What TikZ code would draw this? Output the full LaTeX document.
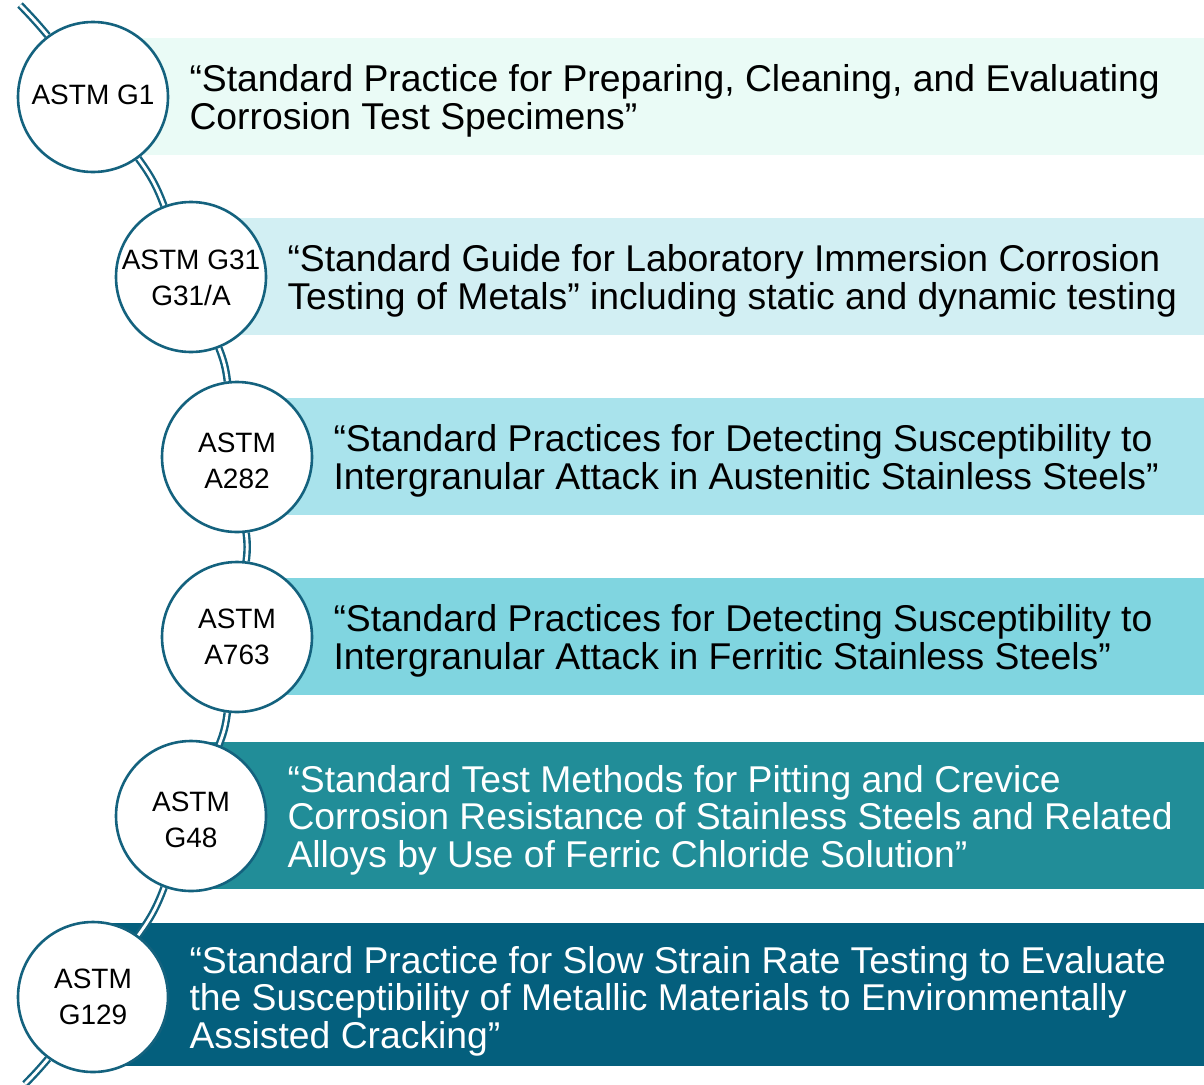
\documentclass[tikz,border=0pt]{standalone}
\usepackage{fontspec}
\setmainfont{Liberation Sans}
\usetikzlibrary{positioning,backgrounds}

\definecolor{bandA}{HTML}{EAFBF6}
\definecolor{bandB}{HTML}{D2EFF3}
\definecolor{bandC}{HTML}{A9E3EC}
\definecolor{bandD}{HTML}{80D5E0}
\definecolor{bandE}{HTML}{218D98}
\definecolor{bandF}{HTML}{045F7D}
\definecolor{rim}{HTML}{14627E}

\tikzset{
	stdcirc/.style={circle,draw=rim,line width=2.6pt,fill=white,minimum size=150pt,inner sep=0pt,align=center,font=\fontsize{28}{36}\selectfont},
	desc/.style={inner sep=0pt,align=left,text depth=0pt,font=\fontsize{37.3}{37.5}\selectfont},
	link/.style={draw=rim,line width=2.4pt,double=white,double distance=2.8pt}
}

\begin{document}
\begin{tikzpicture}[x=1pt,y=1pt]
	\useasboundingbox (0,0) rectangle (1204,-1084);

	%standards along the arc
	\node[stdcirc,text height=16pt] (g1) at (93,-97) {ASTM G1};
	\node[stdcirc,text height=56pt,text depth=-14pt] (g31) at (191,-277) {ASTM G31\\G31/A};
	\node[stdcirc,text height=64pt] (a282) at (237,-457) {ASTM\\A282};
	\node[stdcirc] (a763) at (237,-637) {ASTM\\A763};
	\node[stdcirc,text height=63pt] (g48) at (191,-816) {ASTM\\G48};
	\node[stdcirc] (g129) at (93,-997) {ASTM\\G129};
	\coordinate (top) at (20,-5);
	\coordinate (bot) at (25,-1084);

	%coloured bands
	\begin{scope}[on background layer]
		\fill[bandA] (g1.center |- 0,-38) rectangle (1204,-155);
		\fill[bandB] (g31.center |- 0,-218) rectangle (1204,-335);
		\fill[bandC] (a282.center |- 0,-398) rectangle (1204,-515);
		\fill[bandD] (a763.center |- 0,-578) rectangle (1204,-695);
		\fill[bandE] (g48.center |- 0,-742) rectangle (1204,-889);
		\fill[bandF] (g129.center |- 0,-923) rectangle (1204,-1066);

		%double line through the circles
		\draw[link] (top) to[bend left=2] (g1);
		\draw[link] (g1) to[bend left=7.8] (g31);
		\draw[link] (g31) to[bend left=7.1] (a282);
		\draw[link] (a282) to[bend left=6.9] (a763);
		\draw[link] (a763) to[bend left=7.1] (g48);
		\draw[link] (g48) to[bend left=7.8] (g129);
		\draw[link] (g129) to[bend left=2] (bot);
	\end{scope}

	%descriptions
	\node[desc,right=20pt of g1] (d1) {“Standard Practice for Preparing, Cleaning, and Evaluating\\Corrosion Test Specimens”};
	\node[desc,right=20pt of g31] (d2) {“Standard Guide for Laboratory Immersion Corrosion\\Testing of Metals” including static and dynamic testing};
	\node[desc,right=20pt of a282] (d3) {“Standard Practices for Detecting Susceptibility to\\Intergranular Attack in Austenitic Stainless Steels”};
	\node[desc,right=20pt of a763] (d4) {“Standard Practices for Detecting Susceptibility to\\Intergranular Attack in Ferritic Stainless Steels”};
	\node[desc,text=white,right=20pt of g48] (d5) {“Standard Test Methods for Pitting and Crevice\\Corrosion Resistance of Stainless Steels and Related\\Alloys by Use of Ferric Chloride Solution”};
	\node[desc,text=white,right=20pt of g129] (d6) {“Standard Practice for Slow Strain Rate Testing to Evaluate\\the Susceptibility of Metallic Materials to Environmentally\\Assisted Cracking”};
\end{tikzpicture}
\end{document}
